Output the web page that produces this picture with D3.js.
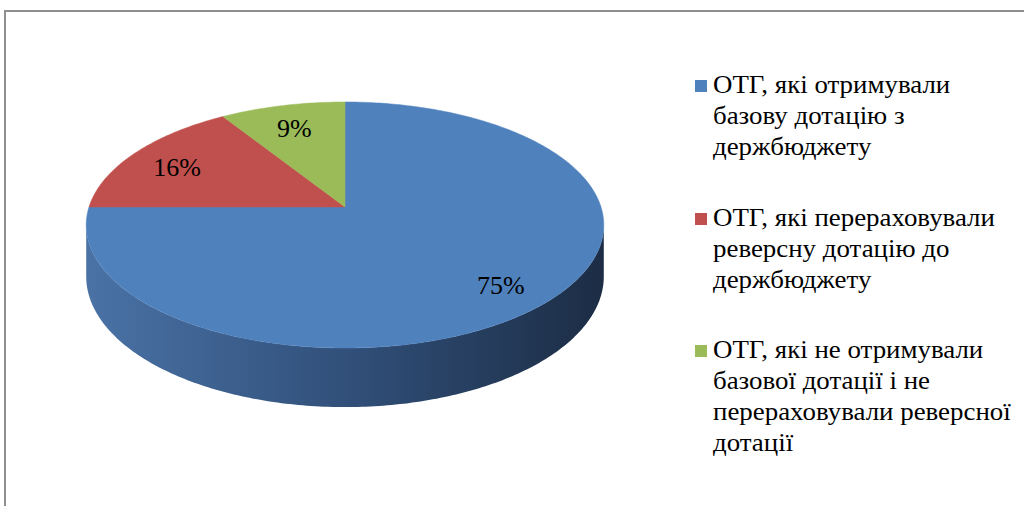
<!DOCTYPE html>
<html>
<head>
<meta charset="utf-8">
<script src="https://cdn.jsdelivr.net/npm/d3@7"></script>
<style>
  html, body { margin: 0; padding: 0; background: #fff; }
  svg { display: block; }
</style>
</head>
<body>
<svg id="chart" width="1024" height="506"></svg>
<script>
// ---- data ----
const categories = [
  "ОТГ, які отримували базову дотацію з держбюджету",
  "ОТГ, які перераховували реверсну дотацію до держбюджету",
  "ОТГ, які не отримували базової дотації і не перераховували реверсної дотації"
];
const legendLines = [
  ["ОТГ, які отримували", "базову дотацію з", "держбюджету"],
  ["ОТГ, які перераховували", "реверсну дотацію до", "держбюджету"],
  ["ОТГ, які не отримували", "базової дотації і не", "перераховували реверсної", "дотації"]
];
const values = [75, 16, 9];
const labels = ["75%", "16%", "9%"];
const colors = ["#4f81bd", "#c0504d", "#9bbb59"];

// ---- layout ----
const svg = d3.select("#chart");
const font = "Liberation Serif, DejaVu Serif, serif";

svg.append("rect")
  .attr("x", 5).attr("y", 11)
  .attr("width", 1100).attr("height", 600)
  .attr("fill", "none").attr("stroke", "#8f8f8f").attr("stroke-width", 2);

const cx = 345, cy = 207, Rx = 256, Ry = 120.4, persp = 0.1464, thick = 50.4;

function proj(a, r, depth) {
  const u = r * Math.sin(a), v = -r * Math.cos(a);
  const den = 1 - persp * v;
  return [cx + Rx * u / den, cy + (Ry * v + depth) / den];
}

const pie = d3.pie().sort(null).value(d => d);
const arcs = pie(values);

const defs = svg.append("defs");
const grad = defs.append("linearGradient").attr("id", "sideGrad")
  .attr("gradientUnits", "userSpaceOnUse")
  .attr("x1", cx - Rx).attr("x2", cx + Rx).attr("y1", 0).attr("y2", 0);
grad.append("stop").attr("offset", "0%").attr("stop-color", "#4a72a5");
grad.append("stop").attr("offset", "50%").attr("stop-color", "#31507a");
grad.append("stop").attr("offset", "100%").attr("stop-color", "#1c2d45");

const sideFill = ["url(#sideGrad)", "#8e3b39", "#73893f"];

const aRight = Math.PI - Math.acos(persp);
const aLeft = Math.PI + Math.acos(persp);
const N = 200;

const sideG = svg.append("g");
arcs.forEach((d, i) => {
  const s = Math.max(d.startAngle, aRight), e = Math.min(d.endAngle, aLeft);
  if (e <= s) return;
  const pts = [];
  for (let k = 0; k <= N; k++) pts.push(proj(s + (e - s) * k / N, 1, 0));
  for (let k = N; k >= 0; k--) pts.push(proj(s + (e - s) * k / N, 1, thick));
  sideG.append("path").attr("d", d3.line()(pts) + "Z").attr("fill", sideFill[i]);
});

const topG = svg.append("g");
arcs.forEach((d, i) => {
  const pts = [[cx, cy]];
  const n = Math.max(10, Math.round(N * (d.endAngle - d.startAngle) / Math.PI));
  for (let k = 0; k <= n; k++) pts.push(proj(d.startAngle + (d.endAngle - d.startAngle) * k / n, 1, 0));
  topG.append("path")
    .attr("d", d3.line()(pts) + "Z")
    .attr("fill", colors[i])
    .attr("stroke", colors[i]).attr("stroke-width", 0.5);
});

const labelG = svg.append("g");
arcs.forEach((d, i) => {
  const mid = (d.startAngle + d.endAngle) / 2;
  const p = proj(mid, 0.79, 4);
  labelG.append("text")
    .attr("x", p[0]).attr("y", p[1])
    .attr("text-anchor", "middle").attr("dy", "0.35em")
    .attr("font-family", font).attr("font-size", 26)
    .attr("fill", "#000")
    .text(labels[i]);
});

const legend = svg.append("g").attr("transform", "translate(695,0)");
const entryY = [93, 226, 358];
const lineH = 31;
categories.forEach((c, i) => {
  const g = legend.append("g").attr("transform", `translate(0,${entryY[i]})`);
  g.append("rect").attr("x", 0).attr("y", -13).attr("width", 12).attr("height", 12)
    .attr("fill", colors[i]);
  const t = g.append("text")
    .attr("font-family", font).attr("font-size", 26).attr("fill", "#000")
    .attr("transform", "translate(18,0) scale(1.035,1)");
  legendLines[i].forEach((ln, j) => {
    t.append("tspan").attr("x", 0).attr("y", j * lineH).text(ln);
  });
  t.append("title").text(c);
});
</script>
</body>
</html>
